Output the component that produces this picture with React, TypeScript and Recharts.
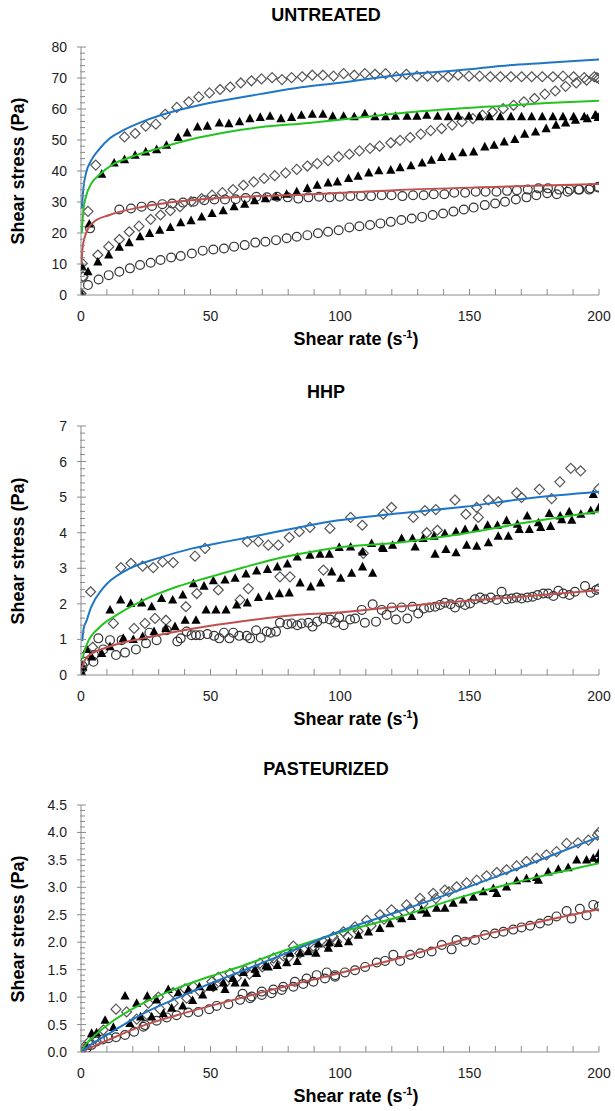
import React from "react";
import { ScatterChart, Scatter, XAxis, YAxis } from "recharts";

type P = [number, number];

// ---------- UNTREATED ----------
const U_DIAMOND: P[] = [
  [0, 0.5], [0.5, 10.2], [0.8, 5.9], [2.7, 27], [5.7, 41.9], [16.8, 51], [20.9, 52.1], [25, 54.5], [28.9, 55.1], [32.5, 58.3],
  [37, 60.5], [41.6, 62.3], [45.5, 63.9], [49.6, 65.2], [53.7, 66.3], [57.6, 67.1], [61.7, 68.4], [65.8, 69.1], [69.7, 69.7],
  [73.8, 70.1], [77.6, 69.5], [81.3, 70.1], [85.4, 70.4], [89.3, 70.9], [93.4, 70.9], [97.5, 70.6], [101.4, 71.4], [105.5, 70.9],
  [109.6, 71.4], [113.5, 71.2], [117.6, 71.4], [121.7, 70.4], [125.6, 71.2], [129.7, 70.6], [133.8, 70.6], [137.7, 70.4],
  [141.8, 70.4], [145.6, 70.9], [149.8, 70.6], [153.9, 70.6], [158, 70.4], [161.9, 70.4], [166, 70.4], [170.1, 70.4], [174, 70.4],
  [178.1, 70.4], [182.2, 70.4], [186.1, 70.6], [190.2, 70.4], [194.3, 70.1], [198.2, 70.4], [200, 69.8],
  [6.5, 12.9], [10.7, 15.6], [14.8, 17.9], [18.6, 20.4], [22.4, 22.2], [26.9, 24.4], [30.7, 25.8], [34.5, 27.2], [38.2, 28.5],
  [42.5, 30.1], [46.6, 31.1], [50.6, 32.2], [54.6, 33], [58.7, 34], [62.7, 35.4], [66.7, 36.5], [70.7, 37.6], [74.8, 38.5],
  [79, 39.4], [83.3, 40.5], [87.4, 41.6], [91.2, 42.4], [95.4, 43.3], [99.5, 44.6], [103.6, 45.4], [107.5, 46.5], [111.6, 47.3],
  [115.3, 48], [119.6, 49.1], [123.2, 49.9], [127.1, 50.8], [131.2, 51.9], [135, 53], [139.2, 53.7], [143.3, 54.8], [147.1, 55.9],
  [151.3, 56.9], [155, 58], [158.9, 59.1], [163, 60.1], [167, 61.2], [171, 62.3], [175.1, 63.4], [179.1, 64.8], [183.1, 65.8],
  [187.1, 67.3], [191.2, 68.4], [195.2, 69.3], [199.2, 70.1],
];
const U_TRIANGLE: P[] = [
  [0, 0.5], [0.5, 9.1], [2.7, 7.5], [3.2, 22.9], [8, 39], [12.8, 42.6], [16.8, 43.7], [20.9, 45.1], [25, 46.2], [29.2, 46.9],
  [33, 48.3], [37.5, 50.8], [41, 52.3], [45, 54.2], [48.8, 54.5], [53.4, 55.5], [57.1, 55.3], [61.2, 55.9], [65.2, 56.9],
  [69.2, 57.3], [73, 57.7], [77.2, 56.9], [81.3, 57.3], [85.1, 58], [89.3, 58.3], [93.4, 58.3], [97.2, 57.7], [101.4, 57.7],
  [105.5, 57.5], [109.6, 58.5], [113.5, 57.5], [117.6, 57.5], [121.4, 57.7], [125.9, 57.7], [129.7, 57.7], [133.5, 58],
  [137.7, 57.7], [141.8, 57.5], [145.6, 57.7], [149.8, 57.7], [153.9, 57.5], [157.7, 57.5], [161.9, 57.5], [166, 57.5],
  [170.1, 57.5], [174, 57.5], [178.1, 57.5], [182.2, 57.5], [186.1, 57.5], [190.2, 57.5], [194.3, 57.5], [198.5, 58], [199.7, 57.3],
  [6.5, 10.7], [10.7, 12.9], [14.8, 15.4], [18.6, 16.9], [22.8, 18.8], [26.5, 19.9], [30.4, 20.9], [34.5, 21.8], [38.5, 23.3],
  [42.5, 24], [46.6, 25.2], [50.6, 26.3], [54.9, 27.2], [59.1, 28.5], [63.2, 29.3], [67, 30.4], [71.2, 31.1], [75.3, 31.7],
  [79.4, 32.5], [83.3, 33.3], [87.4, 34.4], [91.2, 35.4], [95.4, 36.2], [99, 36.5], [103.3, 37.6], [107, 38.3], [111.1, 39.4],
  [115, 40.1], [119.6, 40.3], [123.2, 41.1], [127.4, 41.7], [131.7, 42.6], [135.3, 43.5], [139.2, 44.4], [143.3, 44.6],
  [147.4, 45.9], [151.6, 46.2], [155.9, 47.8], [159.5, 48.3], [163.4, 49.4], [167.5, 50.2], [171.3, 51.9], [175.5, 52.6],
  [179.6, 53.7], [183.4, 54.8], [187.1, 55.5], [190.9, 56.4], [195.5, 56.9], [198.8, 58],
];
const U_CIRCLE: P[] = [
  [3.5, 21.5], [14.8, 27.6], [19.3, 27.9], [23.4, 28.5], [27.4, 28.7], [31.4, 29.3], [35.2, 29.5], [39.4, 29.8], [43.5, 30.1],
  [47.6, 30.6], [51.5, 30.8], [55.6, 30.8], [59.7, 30.9], [63.6, 31.3], [67.7, 31.7], [71.8, 31.5], [75.7, 31.7], [79.8, 31.5],
  [83.9, 31.1], [87.8, 31.5], [91.9, 31.7], [96, 31.5], [99.9, 31.7], [104, 31.9], [108.1, 31.9], [112, 31.9], [116.1, 32.2],
  [119.9, 32.2], [124.1, 31.9], [128.2, 32.2], [132.3, 32.2], [136.2, 32.5], [140.3, 32.5], [144.1, 33], [148.3, 33],
  [152.4, 33.3], [156.2, 33.3], [160.4, 33.3], [164.5, 33.6], [168.3, 33.8], [172.5, 34], [176.6, 34.4], [180.3, 34.4],
  [184.6, 34], [188.7, 34], [192.4, 34], [196.7, 34.4], [199.7, 34.7],
  [0, 0], [0.8, 5.9], [2.7, 3.2], [6.8, 5], [10.7, 6.4], [14.8, 7.5], [18.9, 8.6], [22.8, 9.7], [26.9, 10.4], [30.7, 11.3],
  [34.8, 12.1], [38.5, 12.6], [42.8, 13.4], [47, 14.3], [51.1, 14.7], [55.2, 15], [59.1, 15.6], [63.2, 16.1], [67.3, 16.9],
  [71.2, 17.2], [75.3, 17.7], [79.4, 18.3], [83.3, 18.8], [87.4, 19.3], [91.5, 19.9], [95.4, 20.4], [99.5, 20.9], [103.6, 21.8],
  [107.5, 22.2], [111.6, 22.6], [115.6, 23.1], [119.6, 23.6], [123.7, 24.2], [127.7, 24.7], [131.7, 25.2], [135.8, 25.8],
  [139.8, 26.3], [143.8, 26.9], [147.8, 27.6], [151.6, 28.2], [155.9, 29], [159.9, 29.5], [163.7, 30.1], [167.9, 30.8],
  [172, 31.5], [175.8, 32.2], [180, 32.8], [183.7, 32.5], [187.9, 33.3], [192.1, 34], [196.2, 34], [199.7, 34.9],
];
const U_BLUE: P[] = [
  [0.3, 28], [1, 35], [2, 39.5], [4, 43.5], [7, 47], [11, 50.5], [16, 53], [24, 56], [37, 59.5], [50, 62], [69, 64.8],
  [85, 67], [100, 68.5], [123, 71], [150, 72.8], [162, 73.9], [180, 74.9], [200, 76],
];
const U_GREEN: P[] = [
  [0.3, 20], [1, 28], [2, 32], [4, 36], [7, 38.7], [12, 42], [18, 44.1], [30, 47.3], [43, 50.3], [56, 52.5], [69, 54.1],
  [88, 55.5], [105, 57], [123, 58.6], [140, 59.8], [162, 61], [180, 61.9], [200, 62.7],
];
const U_RED: P[] = [
  [0.2, 10], [0.6, 15], [1.5, 18.8], [3, 21.8], [5, 23.6], [11, 25.8], [24, 28.5], [43, 30.6], [63, 31.7], [85, 32.3],
  [123, 33.9], [162, 34.9], [200, 35.8],
];

// ---------- HHP ----------
const H_DIAMOND: P[] = [
  [0, 0.23], [0.3, 0.14], [3.7, 2.34], [4.5, 0.78], [12.5, 1.45], [15.4, 3.02], [19.3, 3.14], [20.5, 1.31], [23.8, 3.06],
  [24.7, 1.45], [27.9, 3.02], [28.6, 1.59], [31.5, 3.18], [32.8, 1.54], [35.6, 3.16], [40.5, 1.92], [44, 3.34], [44.7, 2.29],
  [47.9, 3.56], [53, 2.39], [61.4, 2.11], [64.6, 2.43], [64.2, 3.75], [68.5, 3.75], [72.3, 3.65], [76.2, 3.65], [76.8, 2.76],
  [80.4, 3.87], [80.7, 2.76], [84.3, 4.03], [88.4, 4.15], [93.6, 2.95], [96.1, 4.12], [104.1, 4.43], [108.6, 4.21], [109, 3.42],
  [116.7, 4.52], [119.9, 4.71], [128.3, 4.43], [132.8, 4.62], [133.5, 4.0], [137, 4.65], [137.6, 4.07], [144.4, 4.92],
  [148.6, 4.52], [152.8, 4.71], [153.4, 4.43], [157.3, 4.92], [161.1, 4.87], [168.2, 5.12], [170.1, 4.99], [177, 5.22],
  [181.7, 4.96], [184.9, 5.43], [189.1, 5.81], [192.9, 5.74], [200, 5.24],
];
const H_TRIANGLE: P[] = [
  [0.9, 0], [0.6, 0.23], [2.2, 0.72], [4.1, 0.51], [8, 0.61], [11.2, 0.8], [11.2, 1.83], [15.3, 2.11], [16.3, 1.03],
  [19.2, 2.01], [20.2, 1.0], [23.4, 2.03], [23.8, 1.08], [27.3, 1.92], [28.2, 1.22], [31.1, 2.15], [32.8, 1.31], [35.4, 2.11],
  [36.3, 1.36], [40.2, 1.54], [39.3, 2.25], [43.4, 2.57], [44.4, 1.54], [47.5, 2.5], [48.3, 1.83], [51.1, 2.65], [52.1, 1.83],
  [55.6, 2.67], [56, 1.83], [59.5, 2.72], [60.1, 1.97], [63.7, 2.84], [64.2, 2.03], [67.8, 2.93], [68.5, 2.18], [72, 2.97],
  [72.7, 2.22], [75.8, 3.04], [76.6, 2.29], [79.7, 3.12], [80.4, 2.31], [83.5, 3.32], [84.6, 2.59], [88.4, 3.37], [88.7, 2.48],
  [92.3, 3.4], [92.5, 2.59], [95.9, 3.4], [96.8, 2.9], [99.7, 3.59], [100.3, 2.72], [104.1, 3.6], [104.5, 2.86], [108.7, 3.46],
  [108.7, 3.04], [112.2, 3.7], [112.6, 2.86], [116.3, 3.6], [116.7, 3.56], [120.3, 3.65], [123.8, 3.84], [128, 3.84], [129, 3.6],
  [132.1, 3.84], [136.3, 3.9], [136.7, 3.4], [140.5, 3.98], [140.9, 3.53], [144.8, 3.44], [144.8, 4.03], [148.3, 4.09],
  [148.9, 3.65], [152.5, 4.12], [152.8, 3.62], [157, 4.21], [157.3, 3.72], [161.1, 3.9], [160.8, 4.21], [164.3, 4.34], [165, 3.9],
  [168.5, 4.24], [169.2, 4.09], [172.3, 4.47], [173.1, 4.09], [176.6, 4.28], [177.5, 4.15], [180.8, 4.54], [181.3, 4.18],
  [185, 4.47], [185.6, 4.37], [188.5, 4.59], [189.5, 4.35], [193, 4.52], [196.8, 4.62], [197.8, 5.08], [200, 4.71],
];
const H_CIRCLE: P[] = [
  [0.6, 0.25], [1.5, 0.37], [4.8, 0.37], [5, 0.56], [6.7, 1.03], [8.6, 0.72], [11.2, 0.98], [13.5, 0.56], [15.7, 0.98], [17, 0.63],
  [21.2, 0.72], [25.1, 0.89], [26.4, 1.19], [29.2, 0.98], [33.1, 1.26], [37.2, 0.94], [38.5, 1.03], [40.8, 1.22], [42.7, 1.12],
  [44.4, 1.12], [45.9, 1.12], [48.8, 1.15], [51.4, 1.1], [53.4, 1.03], [55.2, 1.19], [57.3, 1.03], [58.8, 1.19], [61.1, 1.1],
  [64, 1.1], [65.3, 1.03], [67.6, 1.26], [69.4, 1.05], [71.7, 1.22], [73.2, 1.19], [75.3, 1.22], [76.8, 1.47], [79.7, 1.43],
  [81.3, 1.45], [83.5, 1.4], [85.2, 1.45], [87.8, 1.47], [89.4, 1.36], [91.2, 1.5], [93.6, 1.59], [96.1, 1.56], [98.1, 1.47],
  [99.7, 1.62], [101.4, 1.4], [103.9, 1.56], [105.8, 1.59], [108.4, 1.83], [109.6, 1.47], [112.6, 1.99], [113.9, 1.5],
  [116.1, 1.83], [118, 1.69], [120, 1.9], [121.6, 1.56], [123.8, 1.9], [126, 1.59], [128, 1.92], [130.2, 1.73], [132.4, 1.87],
  [134.5, 1.9], [136.7, 1.92], [138.6, 1.97], [140.5, 2.03], [142.7, 1.99], [144.4, 1.9], [146.3, 2.03], [148.3, 1.97],
  [150.2, 2.01], [152.1, 2.13], [154.1, 2.18], [156, 2.13], [158.2, 2.18], [160.5, 2.11], [162.4, 2.34], [164.3, 2.13],
  [166.3, 2.15], [168.2, 2.18], [170.1, 2.15], [172.4, 2.18], [174.4, 2.2], [176.3, 2.25], [178.5, 2.29], [180.4, 2.29],
  [182.4, 2.22], [184.3, 2.37], [186.2, 2.29], [188.6, 2.25], [190.7, 2.34], [194.6, 2.5], [196.8, 2.31], [198.9, 2.39], [200, 2.43],
];
const H_BLUE: P[] = [
  [0.5, 0.95], [1, 1.3], [2, 1.5], [4, 1.92], [8.6, 2.45], [17.6, 2.95], [30.5, 3.3], [43, 3.56], [56, 3.75], [69, 3.93],
  [82, 4.12], [97, 4.32], [122, 4.54], [148, 4.73], [173, 4.97], [200, 5.15],
];
const H_GREEN: P[] = [
  [0.5, 0.45], [2.2, 0.85], [7.3, 1.35], [13.8, 1.69], [24, 2.1], [37, 2.48], [50, 2.76], [63, 3.03], [75.5, 3.27], [88, 3.45],
  [98, 3.57], [122, 3.72], [148, 3.98], [173, 4.3], [200, 4.6],
];
const H_RED: P[] = [
  [0.3, 0.2], [2.2, 0.5], [11, 0.8], [24, 1.03], [43, 1.3], [63, 1.52], [82, 1.68], [98, 1.75], [122, 1.92], [148, 2.08],
  [173, 2.22], [200, 2.38],
];

// ---------- PASTEURIZED ----------
const P_DIAMOND: P[] = [
  [0, 0], [1.2, 0.09], [3.2, 0.19], [5.5, 0.25], [8.6, 0.4], [13.5, 0.78], [17.6, 0.73], [21.5, 0.6], [26, 0.89], [25.4, 0.68],
  [29.9, 1.0], [30.5, 0.78], [35.6, 1.08], [35.6, 0.89], [40.2, 1.15], [40.8, 0.98], [43.4, 1.19], [46, 1.1], [50.5, 1.28],
  [51.1, 1.19], [53, 1.36], [55.5, 1.25], [57.5, 1.43], [60, 1.35], [63.3, 1.49], [65, 1.42], [69.1, 1.62], [70, 1.55],
  [74.3, 1.71], [75, 1.62], [78.1, 1.75], [80, 1.72], [82, 1.93], [84.5, 1.8], [85.8, 1.87], [89.7, 1.93], [90, 1.88],
  [93.6, 2.01], [95, 1.95], [97.4, 2.1], [98.7, 2.01], [101.3, 2.19], [103, 2.1], [105.8, 2.28], [107, 2.2], [110.3, 2.4],
  [112, 2.3], [115.4, 2.5], [117, 2.42], [119.9, 2.59], [122, 2.5], [125.7, 2.68], [127, 2.6], [130.9, 2.8], [132, 2.7],
  [136, 2.89], [137, 2.8], [140.5, 2.95], [142, 2.92], [145, 3.01], [148.9, 3.08], [152.8, 3.13], [156.6, 3.21], [160.5, 3.27],
  [164.3, 3.32], [168.2, 3.39], [172, 3.47], [175.9, 3.53], [179.7, 3.59], [183.6, 3.65], [187.5, 3.8], [191.9, 3.81],
  [195.9, 3.86], [199.4, 3.95], [200, 4.0],
];
const P_TRIANGLE: P[] = [
  [0.6, 0], [1.9, 0.1], [4.1, 0.34], [6, 0.35], [9.3, 0.58], [12.5, 0.45], [17, 1.02], [18.9, 0.52], [21.5, 0.89], [23, 0.64],
  [25.6, 1.02], [27.3, 0.64], [29.2, 0.95], [31.8, 0.7], [33.7, 1.14], [35, 0.8], [37.6, 1.08], [39.3, 0.84], [41.4, 1.13],
  [43.1, 0.94], [45.7, 1.19], [47, 1.04], [49.8, 1.18], [51.1, 1.19], [55, 1.26], [55.6, 1.14], [58.6, 1.34], [59.5, 1.26],
  [62.7, 1.45], [63.3, 1.26], [67.2, 1.51], [67.8, 1.43], [71.4, 1.57], [72.3, 1.55], [75.8, 1.58], [79.4, 1.63], [80.7, 1.8],
  [83.5, 1.65], [84.6, 1.8], [87.8, 1.83], [90.7, 1.8], [91.6, 1.97], [95.5, 1.89], [95.9, 1.99], [99.4, 1.98], [103.3, 2.01],
  [107.1, 2.13], [111, 2.19], [115.4, 2.25], [119.3, 2.34], [123.8, 2.43], [127.7, 2.47], [131.5, 2.59], [133.5, 2.53],
  [137.3, 2.62], [140.5, 2.62], [143.7, 2.71], [147.6, 2.77], [151.5, 2.82], [155.3, 2.92], [159.2, 2.98], [160.5, 2.89],
  [164.3, 3.01], [168.2, 3.12], [172, 3.16], [175.9, 3.18], [176.6, 3.13], [180.4, 3.28], [184.3, 3.33], [188.1, 3.36],
  [191.4, 3.5], [195.2, 3.5], [197.8, 3.53], [200, 3.62], [200, 3.5],
];
const P_CIRCLE: P[] = [
  [0, 0], [2.2, 0.07], [4.1, 0.13], [6, 0.19], [8.4, 0.23], [10.6, 0.25], [13.5, 0.27], [17, 0.31], [20.5, 0.37], [24.7, 0.49],
  [29.2, 0.57], [33.1, 0.63], [36.9, 0.67], [41.4, 0.72], [45.3, 0.73], [49.5, 0.78], [52.4, 0.84], [56.9, 0.87], [61.4, 0.95],
  [65.3, 0.98], [69.8, 1.04], [73.6, 1.07], [77.5, 1.13], [82, 1.19], [85.8, 1.24], [89.7, 1.28], [94.2, 1.34], [98.1, 1.37],
  [24.1, 0.46], [62.4, 1.06], [65.9, 1.01], [69.8, 1.1], [74.3, 1.14], [78.1, 1.19], [82.6, 1.28], [87.1, 1.34], [91, 1.4],
  [94.9, 1.45], [98.1, 1.4], [101.9, 1.45], [105.8, 1.49], [109.7, 1.55], [114.2, 1.63], [117.4, 1.66], [120.6, 1.77],
  [123.2, 1.66], [127.1, 1.77], [131, 1.8], [135.4, 1.83], [139.3, 1.95], [143.1, 1.87], [145, 2.04], [148.3, 2.01],
  [152.1, 2.04], [156, 2.13], [159.8, 2.16], [163.1, 2.19], [166.9, 2.23], [170.1, 2.27], [173.4, 2.3], [177.2, 2.34],
  [180.4, 2.39], [183.6, 2.47], [187.5, 2.57], [189.4, 2.43], [192.6, 2.61], [195.2, 2.49], [197.8, 2.68], [200, 2.65],
];
const P_BLUE: P[] = [
  [0, 0], [5, 0.17], [11, 0.34], [24, 0.7], [37, 0.98], [50, 1.25], [63, 1.49], [75, 1.72], [88, 1.97], [100, 2.2],
  [122, 2.55], [148, 2.98], [173, 3.42], [200, 3.92],
];
const P_GREEN: P[] = [
  [0, 0], [2, 0.15], [4.8, 0.28], [11, 0.52], [24, 0.89], [37, 1.16], [50, 1.38], [63, 1.58], [75, 1.79], [88, 2.0],
  [100, 2.18], [122, 2.45], [148, 2.84], [173, 3.15], [200, 3.44],
];
const P_RED: P[] = [
  [0, 0], [11, 0.23], [24, 0.48], [37, 0.67], [50, 0.84], [63, 1.0], [75, 1.15], [88, 1.3], [100, 1.44], [122, 1.7],
  [148, 2.05], [173, 2.33], [200, 2.6],
];

// ---------- axes ----------
const X_LABELS = [0, 50, 100, 150, 200];
const X_TICKS = Array.from({ length: 21 }, (_, i) => i * 10);
const U_Y_LABELS = [0, 10, 20, 30, 40, 50, 60, 70, 80];
const H_Y_LABELS = [0, 1, 2, 3, 4, 5, 6, 7];
const P_Y_LABELS = ["0.0", "0.5", "1.0", "1.5", "2.0", "2.5", "3.0", "3.5", "4.0", "4.5"];

const FONT = "'Liberation Sans', Arial, Helvetica, sans-serif";
const AXIS = "#8c8c8c";
const TXT = "#1c1c1c";

const toPts = (a: P[]) => a.map(([x, y]) => ({ x, y }));

const DiamondShape = (p: any) => {
  const { cx, cy } = p;
  if (cx == null || cy == null) return <g />;
  const r = 5;
  return (
    <polygon
      points={`${cx},${cy - r} ${cx + r},${cy} ${cx},${cy + r} ${cx - r},${cy}`}
      fill="none"
      stroke="#555"
      strokeWidth={1.2}
    />
  );
};
const TriangleShape = (p: any) => {
  const { cx, cy } = p;
  if (cx == null || cy == null) return <g />;
  return <polygon points={`${cx},${cy - 5} ${cx + 4.6},${cy + 3.6} ${cx - 4.6},${cy + 3.6}`} fill="#000" />;
};
const CircleShape = (p: any) => {
  const { cx, cy } = p;
  if (cx == null || cy == null) return <g />;
  return <circle cx={cx} cy={cy} r={4.4} fill="none" stroke="#333" strokeWidth={1.2} />;
};
const NoShape = () => <g />;

const XTick = (props: any) => {
  const { x, y, payload } = props;
  const v = payload.value;
  const lab = X_LABELS.includes(v);
  return (
    <g>
      <line x1={x} x2={x} y1={y} y2={y - 6} stroke={AXIS} strokeWidth={1} />
      {lab && (
        <text x={x} y={y + 21} textAnchor="middle" dominantBaseline="central" fontSize={14} fontFamily={FONT} fill={TXT}>
          {String(v)}
        </text>
      )}
    </g>
  );
};

const makeYTick = (labels: string[], fmt: (v: number) => string) => (props: any) => {
  const { x, y, payload } = props;
  const s = fmt(payload.value);
  const major = labels.includes(s);
  return (
    <g>
      <line x1={x - (major ? 4 : 1)} x2={x + (major ? 5 : 4)} y1={y} y2={y} stroke={AXIS} strokeWidth={1} />
      {major && (
        <text x={x - 14} y={y} textAnchor="end" dominantBaseline="central" fontSize={14} fontFamily={FONT} fill={TXT}>
          {s}
        </text>
      )}
    </g>
  );
};

type PanelCfg = {
  title: string;
  titleY: number;
  plotTop: number;
  plotBottom: number;
  yMax: number;
  yTicks: number[];
  yLabels: string[];
  fmt: (v: number) => string;
  diamonds: P[];
  triangles: P[];
  circles: P[];
  blue: P[];
  green: P[];
  red: P[];
};

const PANELS: PanelCfg[] = [
  {
    title: "UNTREATED", titleY: 15, plotTop: 47, plotBottom: 295, yMax: 80,
    yTicks: Array.from({ length: 41 }, (_, i) => i * 2), yLabels: U_Y_LABELS.map(String), fmt: (v) => String(v),
    diamonds: U_DIAMOND, triangles: U_TRIANGLE, circles: U_CIRCLE, blue: U_BLUE, green: U_GREEN, red: U_RED,
  },
  {
    title: "HHP", titleY: 392, plotTop: 426, plotBottom: 675, yMax: 7,
    yTicks: Array.from({ length: 36 }, (_, i) => Math.round(i * 2) / 10), yLabels: H_Y_LABELS.map(String),
    fmt: (v) => String(v),
    diamonds: H_DIAMOND, triangles: H_TRIANGLE, circles: H_CIRCLE, blue: H_BLUE, green: H_GREEN, red: H_RED,
  },
  {
    title: "PASTEURIZED", titleY: 769, plotTop: 805, plotBottom: 1052, yMax: 4.5,
    yTicks: Array.from({ length: 46 }, (_, i) => Math.round(i) / 10), yLabels: P_Y_LABELS, fmt: (v) => v.toFixed(1),
    diamonds: P_DIAMOND, triangles: P_TRIANGLE, circles: P_CIRCLE, blue: P_BLUE, green: P_GREEN, red: P_RED,
  },
];

const BLUE = "#1f76c6";
const GREEN = "#22c41e";
const RED = "#c0504d";

function Panel({ cfg }: { cfg: PanelCfg }) {
  const plotH = cfg.plotBottom - cfg.plotTop;
  const YTick = makeYTick(cfg.yLabels, cfg.fmt);
  const textBase: React.CSSProperties = {
    position: "absolute",
    fontFamily: FONT,
    fontWeight: "bold",
    fontSize: 18,
    color: "#000",
    whiteSpace: "nowrap",
    lineHeight: "20px",
  };
  return (
    <>
      <div style={{ ...textBase, left: 326, top: cfg.titleY, transform: "translate(-50%, -50%)" }}>{cfg.title}</div>
      <div style={{ ...textBase, left: 356, top: cfg.plotBottom + 45, transform: "translate(-50%, -50%)" }}>
        Shear rate (s
        <span style={{ fontSize: 11, position: "relative", top: -7 }}>-1</span>)
      </div>
      <div
        style={{
          ...textBase,
          left: 18,
          top: (cfg.plotTop + cfg.plotBottom) / 2,
          transform: "translate(-50%, -50%) rotate(-90deg)",
        }}
      >
        Shear stress (Pa)
      </div>
      <div style={{ position: "absolute", left: 0, top: cfg.plotTop - 10 }}>
        <ScatterChart width={615} height={plotH + 40} margin={{ top: 10, right: 16, bottom: 0, left: 0 }}>
          <XAxis
            type="number"
            dataKey="x"
            domain={[0, 200]}
            ticks={X_TICKS}
            interval={0}
            tickSize={0}
            tickMargin={0}
            tickLine={false}
            tick={XTick}
            axisLine={{ stroke: AXIS, strokeWidth: 1 }}
            height={30}
            allowDataOverflow
          />
          <YAxis
            type="number"
            dataKey="y"
            domain={[0, cfg.yMax]}
            ticks={cfg.yTicks}
            interval={0}
            tickSize={0}
            tickMargin={0}
            tickLine={false}
            tick={YTick}
            axisLine={{ stroke: AXIS, strokeWidth: 1 }}
            width={81}
            allowDataOverflow
          />
          <Scatter data={toPts(cfg.circles)} shape={CircleShape} isAnimationActive={false} />
          <Scatter data={toPts(cfg.diamonds)} shape={DiamondShape} isAnimationActive={false} />
          <Scatter data={toPts(cfg.triangles)} shape={TriangleShape} isAnimationActive={false} />
          <Scatter
            data={toPts(cfg.red)}
            line={{ stroke: RED, strokeWidth: 2 }}
            lineJointType="monotoneX"
            shape={NoShape}
            isAnimationActive={false}
          />
          <Scatter
            data={toPts(cfg.green)}
            line={{ stroke: GREEN, strokeWidth: 2 }}
            lineJointType="monotoneX"
            shape={NoShape}
            isAnimationActive={false}
          />
          <Scatter
            data={toPts(cfg.blue)}
            line={{ stroke: BLUE, strokeWidth: 2 }}
            lineJointType="monotoneX"
            shape={NoShape}
            isAnimationActive={false}
          />
        </ScatterChart>
      </div>
    </>
  );
}

export default function App() {
  return (
    <div
      style={{
        position: "absolute",
        left: 0,
        top: 0,
        width: 615,
        height: 1111,
        overflow: "hidden",
        background: "#fff",
      }}
    >
      {PANELS.map((c) => (
        <Panel key={c.title} cfg={c} />
      ))}
    </div>
  );
}
